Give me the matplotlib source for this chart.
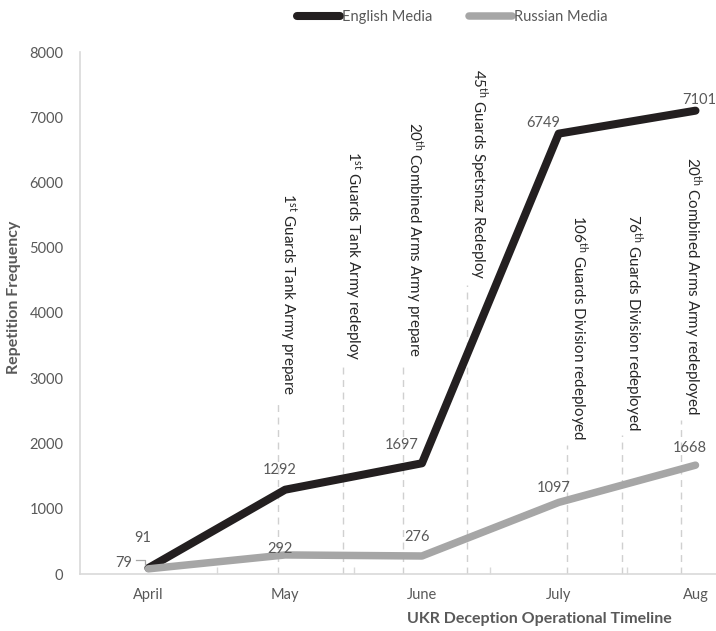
import matplotlib
matplotlib.use("Agg")
import matplotlib.pyplot as plt
from matplotlib.lines import Line2D
from matplotlib.ticker import FixedLocator
from matplotlib.transforms import Affine2D

months = ["April", "May", "June", "July", "Aug"]
english = [91, 1292, 1697, 6749, 7101]
russian = [79, 292, 276, 1097, 1668]

# event markers: position on the month axis, height of the dashed guide, label
event_x = [0.947, 1.426, 1.859, 2.332, 3.058, 3.465, 3.894]
event_top = [2667, 3203, 3249, 4429, 1977, 2130, 2360]
event_labels = [
    r"1$^{\mathrm{st}}$ Guards Tank Army prepare",
    r"1$^{\mathrm{st}}$ Guards Tank Army redeploy",
    r"20$^{\mathrm{th}}$ Combined Arms Army prepare",
    r"45$^{\mathrm{th}}$ Guards Spetsnaz Redeploy",
    r"106$^{\mathrm{th}}$ Guards Division redeployed",
    r"76$^{\mathrm{th}}$ Guards Division redeployed",
    r"20$^{\mathrm{th}}$ Combined Arms Army redeployed",
]

# label offsets in pixels (dx, dy)
eng_off = [(-6, 30), (-5, 20), (-20, 18), (-16, 11), (4, 11)]
rus_off = [(-25, 6), (-5, 6), (-5, 19), (-5, 14), (-6, 17)]

FONT = "Lato"
GREY = "#595959"
plt.rcParams["font.family"] = [FONT, "DejaVu Sans"]
plt.rcParams["mathtext.fontset"] = "custom"
plt.rcParams["mathtext.rm"] = FONT
plt.rcParams["mathtext.it"] = FONT + ":italic"
plt.rcParams["mathtext.bf"] = FONT + ":bold"

fig = plt.figure(figsize=(7.16, 6.31), dpi=100)
ax = fig.add_axes([80 / 716, 57 / 631, 636 / 716, 522 / 631])

x = list(range(len(months)))
ax.plot(x, english, color="#231f20", lw=5.8, solid_capstyle="round",
        label="English Media", zorder=3)
ax.plot(x, russian, color="#a6a6a6", lw=5.4, solid_capstyle="round",
        label="Russian Media", zorder=3)

ax.set_xlim(-0.5, 4.15)
ax.set_ylim(0, 8000)

for xi, top, lab in zip(event_x, event_top, event_labels):
    ax.plot([xi, xi], [0, top], color="#d0d0d0", lw=1, ls=(0, (5, 4)), zorder=1)
    ax.annotate(lab, (xi, top), xytext=(0, 5), textcoords="offset pixels",
                rotation=-90, ha="left", va="bottom", fontsize=10.9,
                color="#262626")

for xi, v, (dx, dy) in zip(x, english, eng_off):
    ax.annotate(str(v), (xi, v), xytext=(dx, dy), textcoords="offset pixels",
                ha="center", va="center", fontsize=10.5, color=GREY)
for xi, v, (dx, dy) in zip(x, russian, rus_off):
    ax.annotate(str(v), (xi, v), xytext=(dx, dy), textcoords="offset pixels",
                ha="center", va="center", fontsize=10.5, color=GREY)

# small leader bracket next to the "79" label
px, py = ax.transData.transform((x[0], russian[0]))
fig.add_artist(Line2D([-12, -3, -3], [9, 9, 4], color="#a6a6a6", lw=0.9,
                      zorder=4, transform=Affine2D().translate(px, py)))

ax.set_yticks(range(0, 8001, 1000))
ax.set_xticks(x)
ax.set_xticklabels(months)
ax.xaxis.set_minor_locator(FixedLocator([0.5, 1.5, 2.5, 3.5]))
ax.tick_params(axis="x", which="major", length=0, pad=10, labelsize=10.5,
               labelcolor=GREY)
ax.tick_params(axis="x", which="minor", direction="in", length=5,
               color="#d9d9d9", width=1)
ax.tick_params(axis="y", length=0, pad=12, labelsize=10.5, labelcolor=GREY)

for side in ["top", "right"]:
    ax.spines[side].set_visible(False)
for side in ["left", "bottom"]:
    ax.spines[side].set_color("#d9d9d9")
    ax.spines[side].set_linewidth(1.2)

ax.set_ylabel("Repetition Frequency", fontsize=11.5, fontweight="bold",
              color=GREY)
ax.yaxis.set_label_coords(-0.093, 0.53)
ax.set_xlabel("UKR Deception Operational Timeline", fontsize=11.5,
              fontweight="bold", color=GREY)
ax.xaxis.set_label_coords(0.723, -0.072)

fig.legend(loc="center", bbox_to_anchor=(452 / 716, 1 - 17 / 631), ncol=2,
           frameon=False, fontsize=10.5, labelcolor=GREY, handlelength=3.0,
           handletextpad=0.1, columnspacing=2.5)

fig.savefig("out.png", dpi=100)
